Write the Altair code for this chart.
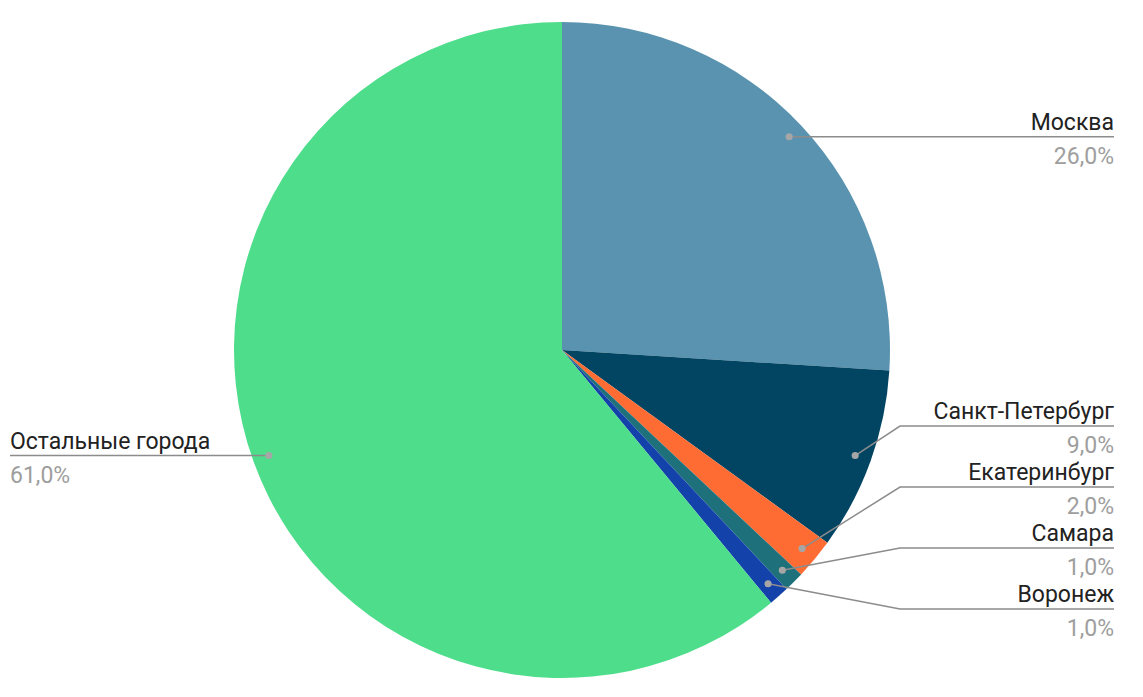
import math
import altair as alt
import pandas as pd

# ---- data ----
cities = ["Москва", "Санкт-Петербург", "Екатеринбург", "Самара", "Воронеж", "Остальные города"]
shares = [26.0, 9.0, 2.0, 1.0, 1.0, 61.0]
colors = ["#5A93AF", "#024563", "#FF6C33", "#1E717A", "#1343AA", "#4DDD8B"]

# ---- layout constants ----
W, H = 1127, 681
CX, CY = 554, 342
R = 328
DOT_R = 0.95 * R
ELBOW = R + 10
RIGHT_END = 1106
LEFT_END = 2
GAP = 61
Y_LO, Y_HI = 20, H - 80
FONT = "Roboto"
FS = 23

total = sum(shares)
rows = []
cum = 0.0
for i, (c, s) in enumerate(zip(cities, shares)):
    mid = (cum + s / 2) / total * 2 * math.pi
    cum += s
    dx = CX + DOT_R * math.sin(mid)
    dy = CY - DOT_R * math.cos(mid)
    rows.append(dict(city=c, share=s, idx=i, dx=dx, dy=dy, side="R" if math.sin(mid) >= 0 else "L"))


def spread(items):
    clusters = [[it] for it in sorted(items, key=lambda r: r["dy"])]

    def place(cl):
        n = len(cl)
        start = sum(r["dy"] for r in cl) / n - GAP * (n - 1) / 2
        start = max(Y_LO, min(start, Y_HI - GAP * (n - 1)))
        return start

    changed = True
    while changed:
        changed = False
        for k in range(len(clusters) - 1):
            a, b = clusters[k], clusters[k + 1]
            end_a = place(a) + GAP * (len(a) - 1)
            if place(b) < end_a + GAP:
                clusters[k] = a + b
                del clusters[k + 1]
                changed = True
                break
    for cl in clusters:
        s = place(cl)
        for j, r in enumerate(cl):
            r["ly"] = s + GAP * j


spread([r for r in rows if r["side"] == "R"])
spread([r for r in rows if r["side"] == "L"])

line_rows, text_rows = [], []
for r in rows:
    right = r["side"] == "R"
    ex = CX + ELBOW if right else CX - ELBOW
    endx = RIGHT_END if right else LEFT_END
    pts = [(r["dx"], r["dy"]), (ex, r["ly"]), (endx, r["ly"])]
    for o, (px, py) in enumerate(pts):
        line_rows.append(dict(city=r["city"], o=o, px=px, py=py))
    pct = f"{r['share']:.1f}".replace(".", ",") + "%"
    al = "right" if right else "left"
    text_rows.append(dict(city=r["city"], tx=endx, ty=r["ly"] - 7, txt=r["city"], kind="name", anchor=al))
    text_rows.append(dict(city=r["city"], tx=endx, ty=r["ly"] + 27, txt=pct, kind="pct", anchor=al))

pie_df = pd.DataFrame(rows)
line_df = pd.DataFrame(line_rows)
text_df = pd.DataFrame(text_rows)

xs = alt.Scale(domain=[0, W], range=[0, W])
ys = alt.Scale(domain=[0, H], range=[0, H])

pie = alt.Chart(pie_df).mark_arc(outerRadius=R, stroke=None).encode(
    theta=alt.Theta("share:Q", stack=True),
    order=alt.Order("idx:Q"),
    color=alt.Color("city:N", scale=alt.Scale(domain=cities, range=colors), legend=None),
    x=alt.value(CX),
    y=alt.value(CY),
)

lines = alt.Chart(line_df).mark_line(color="#8c8c8c", strokeWidth=1.5).encode(
    x=alt.X("px:Q", scale=xs, axis=None),
    y=alt.Y("py:Q", scale=ys, axis=None),
    detail="city:N",
    order="o:Q",
)

dots = alt.Chart(pie_df).mark_circle(size=50, color="#a6a6a6", opacity=1).encode(
    x=alt.X("dx:Q", scale=xs, axis=None),
    y=alt.Y("dy:Q", scale=ys, axis=None),
)


def text_layer(kind, align, color):
    d = text_df[(text_df["kind"] == kind) & (text_df["anchor"] == align)]
    return alt.Chart(d).mark_text(
        align=align, baseline="alphabetic", font=FONT, fontSize=FS, color=color
    ).encode(
        x=alt.X("tx:Q", scale=xs, axis=None),
        y=alt.Y("ty:Q", scale=ys, axis=None),
        text="txt:N",
    )


texts = [
    text_layer("name", "right", "#222222"),
    text_layer("pct", "right", "#9e9e9e"),
    text_layer("name", "left", "#222222"),
    text_layer("pct", "left", "#9e9e9e"),
]

chart = alt.layer(pie, lines, dots, *texts).properties(
    width=W, height=H, padding=0, autosize=alt.AutoSizeParams(type="none"), background="white"
).configure_view(stroke=None)

chart.save("out.html", embed_options={"renderer": "svg", "actions": False})
